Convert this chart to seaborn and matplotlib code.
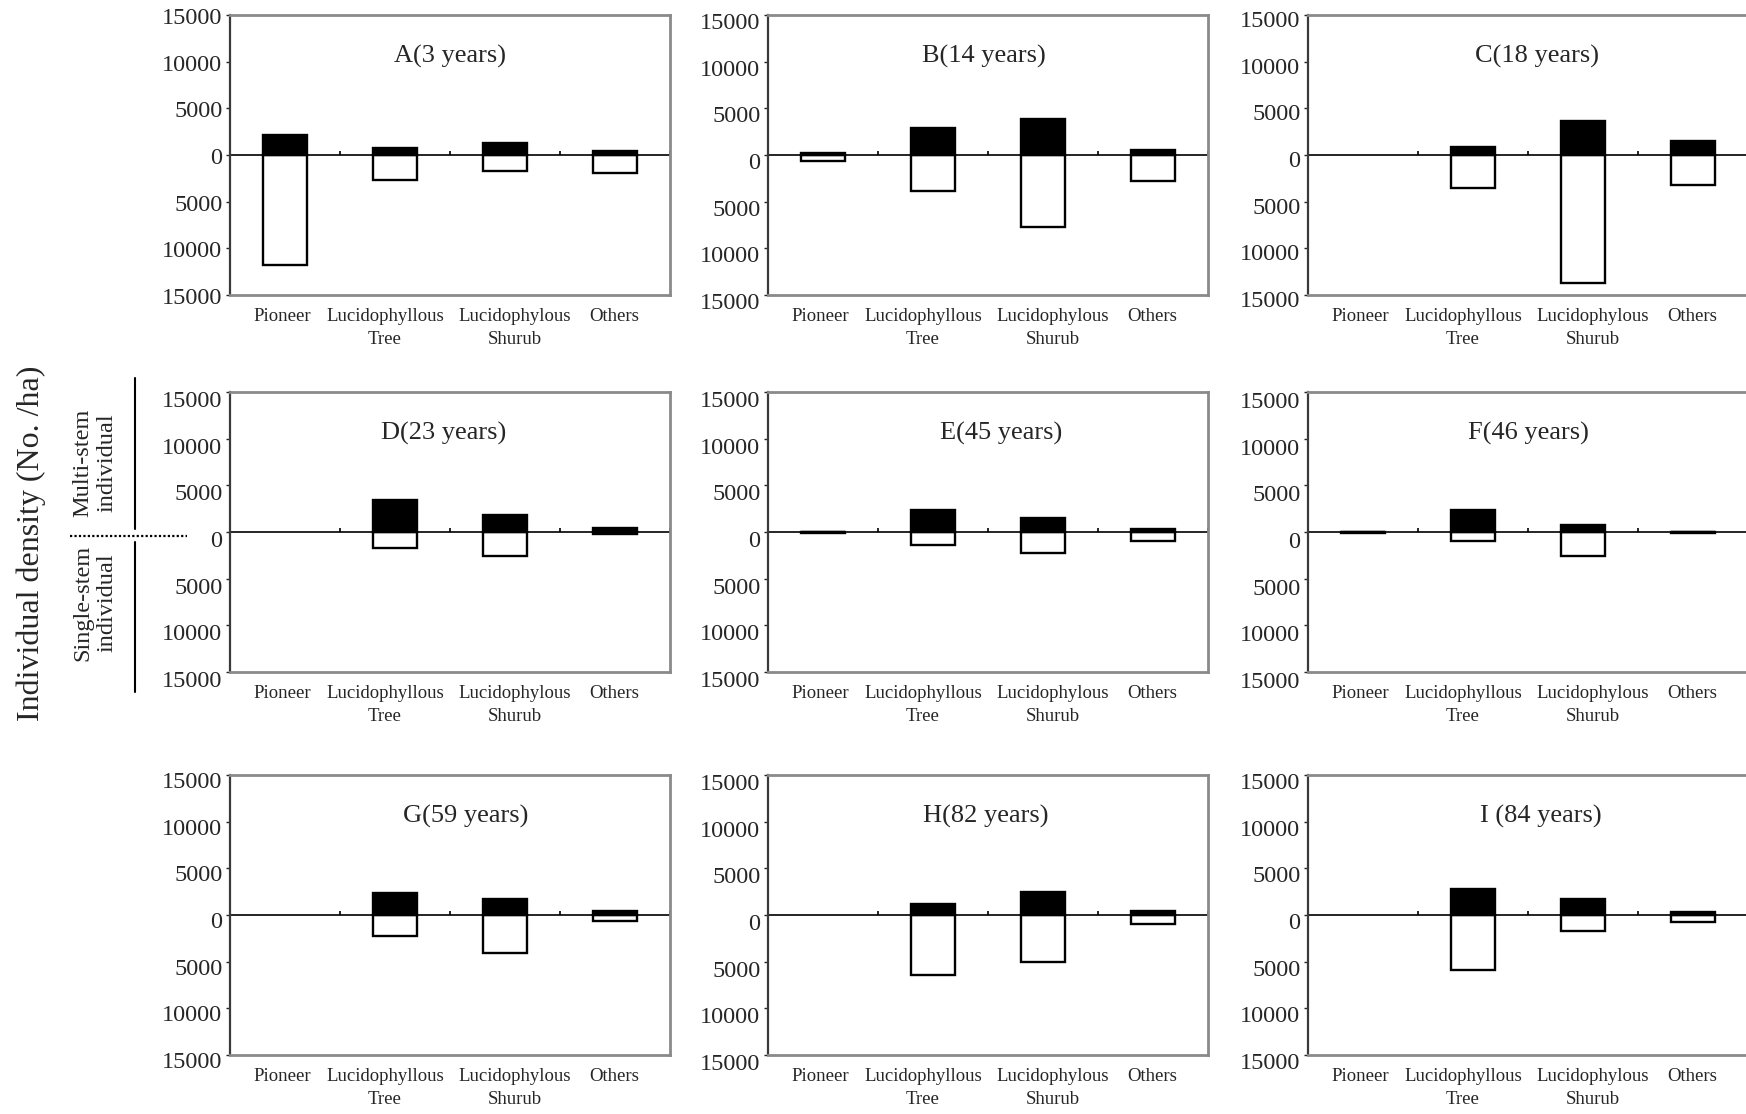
import numpy as np
import matplotlib.pyplot as plt
import seaborn as sns
from matplotlib.transforms import ScaledTranslation
from matplotlib.lines import Line2D


# data
categories = ["Pioneer", "Lucidophyllous Tree", "Lucidophylous Shurub", "Others"]
tick_labels = ["Pioneer", "Lucidophyllous\nTree", "Lucidophylous\nShurub", "Others"]
panel_titles = ["A(3 years)", "B(14 years)", "C(18 years)",
                "D(23 years)", "E(45 years)", "F(46 years)",
                "G(59 years)", "H(82 years)", "I (84 years)"]

# multi-stem individuals (upper, black)
multi_stem = [
    [2100, 750, 1250, 460],    # A
    [250, 2870, 3870, 500],    # B
    [0, 850, 3600, 1500],      # C
    [0, 3400, 1850, 430],      # D
    [50, 2400, 1500, 360],     # E
    [50, 2400, 750, 50],       # F
    [0, 2350, 1700, 400],      # G
    [0, 1180, 2500, 400],      # H
    [0, 2750, 1700, 300],      # I
]
# single-stem individuals (lower, white)
single_stem = [
    [11800, 2700, 1670, 1900],
    [600, 3900, 7700, 2780],
    [0, 3500, 13700, 3200],
    [0, 1700, 2550, 250],
    [100, 1400, 2300, 930],
    [100, 930, 2570, 100],
    [0, 2250, 4050, 680],
    [0, 6400, 5050, 930],
    [0, 5850, 1750, 700],
]
y_ticks = [-15000, -10000, -5000, 0, 5000, 10000, 15000]

# layout (pixels of the 1746x1114 figure)
W, H = 1746, 1114
col_left = [230, 768, 1308]
row_top = [15, 392, 775]
ax_w, ax_h = 440, 280
title_x = [0.50, 0.49, 0.52, 0.485, 0.53, 0.50, 0.535, 0.495, 0.53]
ytick_shift = [1, 6, 4, 7, 7, 8, 5, 7, 6]
xtick_shift = [-3, -10, 10, -1]

sns.set_style("white")
plt.rcParams['font.family'] = ['Liberation Serif', 'DejaVu Serif']

fig = plt.figure(figsize=(W / 100, H / 100), dpi=100)

for i, title in enumerate(panel_titles):
    r, c = divmod(i, 3)
    ax = fig.add_axes([col_left[c] / W, 1 - (row_top[r] + ax_h) / H, ax_w / W, ax_h / H])

    ax.axhline(0, color='black', lw=1.2, zorder=0.5)
    sns.barplot(x=categories, y=[-v for v in single_stem[i]], color='white',
                edgecolor='black', linewidth=1.7, width=0.4, saturation=1,
                order=categories, ax=ax, zorder=2)
    sns.barplot(x=categories, y=multi_stem[i], color='black',
                edgecolor='black', linewidth=1.7, width=0.4, saturation=1,
                order=categories, ax=ax, zorder=2)
    for p in ax.patches:
        if p.get_height() == 0:
            p.set_visible(False)

    # small ticks on the zero line between categories
    ax.vlines(np.arange(0.5, len(categories)), 0, 380, color='black', lw=1.2, zorder=0.5)

    ax.set_xlim(-0.5, len(categories) - 0.5)
    ax.set_ylim(-15000, 15000)
    ax.set_yticks(y_ticks)
    ax.set_yticklabels([str(abs(t)) for t in y_ticks])
    ax.set_xticks(range(len(categories)))
    ax.set_xticklabels(tick_labels, linespacing=1.45)
    ax.set_xlabel('')
    ax.set_ylabel('')

    ax.tick_params(axis='y', direction='out', length=3, width=1, labelsize=17.5, pad=2.5,
                   left=True, right=False)
    ax.tick_params(axis='x', length=0, labelsize=13.5, pad=9.5)

    for lbl in ax.get_yticklabels():
        lbl.set_transform(lbl.get_transform() +
                          ScaledTranslation(0, -ytick_shift[i] / 100, fig.dpi_scale_trans))
    for k, lbl in enumerate(ax.get_xticklabels()):
        lbl.set_transform(lbl.get_transform() +
                          ScaledTranslation(xtick_shift[k] / 100, 0, fig.dpi_scale_trans))

    for name, spine in ax.spines.items():
        spine.set_visible(True)
        if name == 'left':
            spine.set_color('#3a3a3a')
            spine.set_linewidth(1.6)
        else:
            spine.set_color('#8a8a8a')
            spine.set_linewidth(2)

    ax.text(title_x[i], 0.852, title, transform=ax.transAxes,
            ha='center', va='center', fontsize=19)

# side labels
fig.text(31 / W, 1 - 543 / H, "Individual density (No. /ha)", rotation=90,
         ha='center', va='center', fontsize=23)
fig.text(95 / W, 1 - 463 / H, "Multi-stem\nindividual", rotation=90,
         ha='center', va='center', fontsize=17.5, linespacing=1.2)
fig.text(95 / W, 1 - 603 / H, "Single-stem\nindividual", rotation=90,
         ha='center', va='center', fontsize=17.5, linespacing=1.2)

fig.add_artist(Line2D([135 / W, 135 / W], [1 - 378 / H, 1 - 529 / H], color='black', lw=1.5))
fig.add_artist(Line2D([135 / W, 135 / W], [1 - 542 / H, 1 - 692 / H], color='black', lw=1.5))
fig.add_artist(Line2D([70 / W, 187 / W], [1 - 536 / H, 1 - 536 / H], color='black', lw=1.6,
                      linestyle=(0, (1, 1))))

fig.savefig('out.png', dpi=100)
